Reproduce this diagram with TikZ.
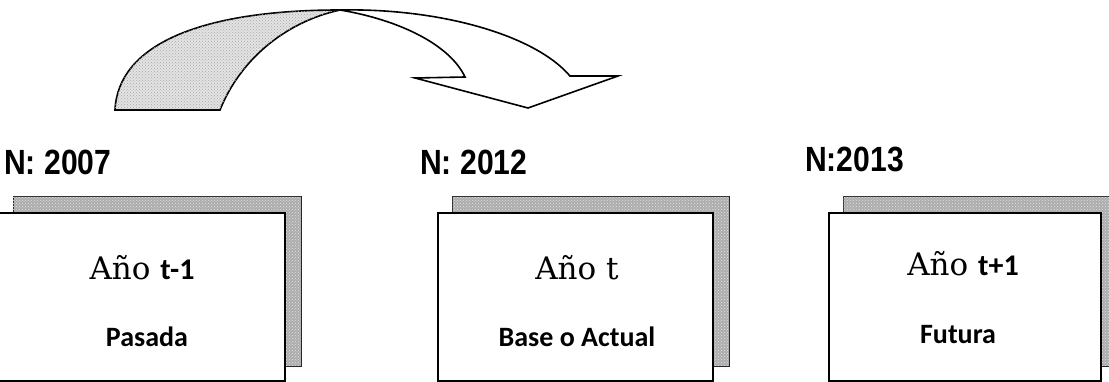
\documentclass[tikz,border=0pt]{standalone}
\usepackage{fontspec}
\setmainfont{Liberation Sans}
\newfontfamily\yearfont{DejaVu Serif}
\newfontfamily\calfont{Carlito}
\usetikzlibrary{patterns}
\pgfdeclarelayer{bg}
\pgfsetlayers{bg,main}
\newcommand{\narrowlbl}[1]{\scalebox{0.86}[1]{#1}}
\begin{document}
\begin{tikzpicture}[x=1pt,y=-1pt,
  frame/.style={draw=black, line width=1.6pt, fill=white, inner sep=0pt, minimum height=168pt},
  boxshade/.style={fill=gray!65, draw=gray!30!black, line width=0.6pt,
    postaction={pattern=crosshatch dots, pattern color=gray!20}},
  tailgrain/.style={fill=gray!22, postaction={pattern=crosshatch dots, pattern color=gray!70}},
  yearlbl/.style={anchor=base west, inner sep=0pt, font=\bfseries\fontsize{35}{38}\selectfont},
  ttl/.style={inner sep=0pt, font=\yearfont\fontsize{31}{36}\selectfont},
  sub/.style={inner sep=0pt, font=\calfont\bfseries\fontsize{28}{32}\selectfont},
  arrowline/.style={line width=1.6pt, line join=miter}]
\clip (0,0) rectangle (1109,382);

% year labels
\node[yearlbl] (n1) at (4,175) {\narrowlbl{N: 2007}};
\node[yearlbl] (n2) at (420,175) {\narrowlbl{N: 2012}};
\node[yearlbl] (n3) at (805,172) {\narrowlbl{N:2013}};

% period boxes
\node[frame, minimum width=286pt] (b1) at (142,297) {};
\node[frame, minimum width=275pt] (b2) at (575.5,297) {};
\node[frame, minimum width=272pt] (b3) at (965,297) {};

% drop shadows behind the boxes
\begin{pgfonlayer}{bg}
  \foreach \b in {b1,b2,b3}
    \filldraw[boxshade] ([shift={(15,-16)}]\b.north west) rectangle ([shift={(15,-16)}]\b.south east);
\end{pgfonlayer}

% box texts
\node[ttl] (t1) at (142,268) {Año {\calfont\bfseries\fontsize{30}{32}\selectfont t-1}};
\node[sub] (s1) at (147,337) {Pasada};
\node[ttl] (t2) at (577,268) {Año t};
\node[sub] (s2) at (577,337) {Base o Actual};
\node[ttl] (t3) at (963,264) {Año {\calfont\bfseries\fontsize{30}{32}\selectfont t+1}};
\node[sub] (s3) at (958,335) {Futura};

% curved arrow from the past year to the base year
\coordinate (tailL) at (115,110);
\coordinate (tailR) at (220,110);
\coordinate (top) at (340,10);
\coordinate (headO) at (570,76);
\coordinate (barbR) at (618,76);
\coordinate (tip) at (528,108);
\coordinate (barbL) at (415,78);
\coordinate (headI) at (465,77);

\filldraw[arrowline, fill=white] (top) .. controls (440,8) and (535,35) .. (headO)
  -- (barbR) -- (tip) -- (barbL) -- (headI)
  .. controls (450,45) and (400,20) .. (top) -- cycle;
\filldraw[arrowline, tailgrain] (tailL) .. controls (118,45) and (200,10) .. (top)
  .. controls (285,22) and (240,60) .. (tailR) -- cycle;
\end{tikzpicture}
\end{document}
